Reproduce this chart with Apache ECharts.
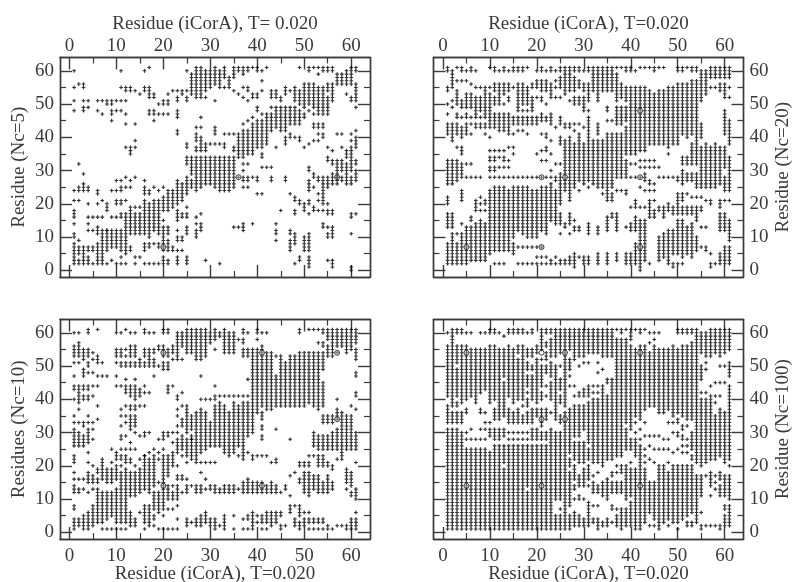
<!DOCTYPE html>
<html><head><meta charset="utf-8">
<style>html,body{margin:0;padding:0;background:#fff}#c{width:794px;height:582px}</style>
<script src="https://cdn.jsdelivr.net/npm/echarts@6/dist/echarts.min.js"></script>
</head><body><div id="c"></div>
<script>
// Each array lists, for residue x = 1..61, the y residues in contact ("a-b" = every residue a to b)
const nc5Columns = [
"60 55 51 48 24 21 16-18 14 10-11 4-8 2-3",
"56 32 25 24 21 9 5-7 2-3",
"55-56 51 48-49 29 25-26 24 4-7 2-3",
"51 49 25 24 20 16 14 12 6-7 2-4",
"16 12 6-7 2",
"51 48 23-24 20 16 11-13 2-8",
"51 47 21 16 12 2-11",
"50-51 18-20 12 6-12 2",
"50-51 47-48 45 24 16 7-12 3",
"51 48 27 24 20-21 16 7-12 2",
"60 55 51 48 27 25 24 20-21 16-17 6-12 4 2",
"54-55 51 47 44 37 28 25 21 5-17 2",
"54-55 35-37 27 25 17-19 11-16 6-7",
"54 44 39 37 28 19 11-17 4 2",
"53 19 11-17 4",
"60 54-55 27 23-25 11-21 6-8 2",
"61 52-55 47-48 23-24 10-20 7-8 2",
"52-53 47-48 45 25 12-21 8 2",
"50 47 24 11-21 7-8 2",
"50-51 47 25 18-22 15 6-13 4 2-3",
"53 50-51 47 18-24 11-13 6-9 2-3",
"54 19-24 6-7",
"54 51-52 46-48 41-42 20-27 15-18 12 9-10 6 2-4",
"53-54 21-26 16-17 9-10 6",
"60 54 51-52 37-38 32-34 23-28 19 16-17 11-13 2-4",
"53-59 29-34 25-27",
"52-61 43 39-41 36-37 24-34 16 14 10-12",
"52-61 46 43 36-40 25-34 17 12-14",
"54-60 52 36-38 26-34 3",
"55-60 38 26-34",
"56-61 51 41-43 38 25-34",
"55-60 38 24-34 2",
"58-61 55 41 37-38 24-34",
"55-58 41 24-34",
"58-61 54 41 36-37 25-34 13",
"60-61 53 34-41 28 13",
"59-61 55 52 44 34-42 32 30 27-28 25 12-14",
"60-61 54-55 51 45 35-42 32 27-28 25",
"61 52-53 46 35-44 28 14",
"60-61 52-53 48-49 37-45 27-28 23",
"60 57 54 47 37-45 34-35 31 23",
"61 38-47 31",
"52-54 49 42-47 31 27-28",
"52-54 43-49 37 14 11-12 9",
"51-52 42-49 18",
"53-55 42-49 38-40 27-28",
"54 44-49 40-41 23 11-12 6-9",
"51-55 44-49 40 21-22 17-18 8-11 2",
"61 50-54 44-48 39-40 20-21 3-4",
"49-56 46-47 37 18-20 6-10",
"60-61 50-56 48 38 30-31 24-27 20-21 17 6-11 1-4",
"61 49-56 47 43-44 39 28-29 25 18-19",
"61 59 48-55 47 43-44 41 39 27-28 23 21 18",
"60-61 47-55 43-44 40-41 20-28 18 13-14",
"60-61 54-56 47-52 37 33-34 25-28 20 17-18 13 10-11 3",
"60-61 51-56 36 32-33 26-29 17-18 10-13 1-3",
"56-59 41 26-33 28",
"56-59 41 37 30-33 27-28",
"56-60 53 34-36 29-32 26-28",
"56-61 51-52 41 39 33-37 30-32 26-28 16-17 11 0-1",
"60-61 51-56 49 42 37-40 32-33 27-30 17"];
const nc20Columns = [
"60-61 54-55 50 47 41-44 26-33 20-22 13-17 5-8 2-4",
"55-60 51 49 39-44 26-33 13-17 2-11",
"61 57 50-54 46-47 41-44 37 27-33 11 2-8",
"60-61 57 49-51 46 40-43 35-37 28-32 21-24 14 2-11",
"60 57 49-53 46-47 41-44 32 28 2-13",
"60-61 56 49-53 46 44 41 32 28 15-16 3-13",
"60 55 48-52 46-47 43-44 28 20-21 18-19 3-14",
"55 48-52 46 43-44 28 22 20 18 3-15",
"55 48-54 46-47 43-44 41 20-21 18 3-14",
"61 55 47-53 45-46 43-44 40 36 33-34 30-31 28 5-24",
"60-61 54-56 50-52 45-47 43-44 36 33-34 30-31 28 6-25 2",
"60 54-56 50-53 42-47 36 34 31 28 6-25 2",
"60-61 53-56 50 42-47 36 33-34 31 28 6-25 2",
"60 54-56 51-52 41-47 37 33 31 28 6-24",
"60-61 55 44-46 41 37 35 28 10-25 5-8",
"60-61 48-56 44-46 42 28 12-25 7 2",
"60-61 50-56 48 44-46 42 28 11-25 7 2",
"61 55 50-54 48 44-46 41 28 10-25 7 2",
"55-56 48-52 44-46 28 10-24 7 2",
"60 55-57 52 44-46 35 28 10-24 7 4 2",
"60-61 54-57 51-52 45-47 41 36 33 28 12-25 7 4 2",
"60 54-57 50 45-46 40-41 36-37 33 28 11-25 4 2",
"60-61 52-56 44-47 39 35 30 28 15-26 3 2",
"60 57 55 52 43 32 27-28 14-24 4 2",
"60-61 55-58 52 44-46 38-40 32 26-29 20-25 14-17 11 3 2",
"53-61 43-44 24-39 13-14 2-3",
"54-61 51 43-44 24-40 21-23 14-17 11 2-4",
"60-61 54-58 50-52 44 42 25-38 15 12-13 3-5 1-2",
"60-61 55-57 50-52 44 41 27-40 24 12-13 4",
"60 54-56 48-52 43 26-38 2-4",
"60-61 51-56 48 27-46 25 11-14 2-4",
"60-61 54-59 26-39",
"60-61 51-59 41-44 25-39 11-13 3-5 2",
"61 54-60 25-39 23",
"61 54-60 48-49 45 24-41 21-23 12-16 2-5",
"61 54-60 45 25-41 21-23 16-17",
"61 51-59 44-49 28-41 24 12-17 3-5",
"61 52-56 44-49 28-41 24",
"60-61 51-55 45-49 35-43 28-33 23-24 13 2-5",
"60-61 50-55 35-49 32 28 19 12-14 2-5",
"60 35-55 32 28 19-21 16 12-15 2-8",
"61 36-55 33 31 28 25 19 0-15",
"61 36-55 33 31 27-29 24 19 3-15",
"61 38-54 33 31 26-27 24 16-21 2",
"60-61 38-53 33 31 26 24 21 16-18",
"61 38-54 31 28 18-19 3-10",
"61 38-54 28 16-19 4-11",
"37-55 35 28 18-20 3-12 2",
"38-55 28 17-19 5-12 1-2",
"60-61 38-56 27-28 17-23 5-15 2",
"60-61 41-56 32-34 26-30 21-23 17-19 4-15 2",
"61 40-56 32-34 27-29 23 17-19 5-13",
"60-61 41-57 32-38 27-29 22 17-19 4-14",
"60-61 39-57 32-38 25-29 22 15-19 6-10",
"60 51-59 40-44 25-37 22 18-19 13 7",
"53-60 25-38 21 13 6-7",
"58-61 55 25-37 20-21 5 1-2",
"58-61 55 25-38 2",
"58-61 54-56 26-37 19-21 12-17 2-5",
"58-61 52-56 41-48 31-37 24-28 21 12-17 2-7",
"58-61 55 52 38-45 30-34 24-29 21 9-15 2-7"];
const nc10Columns = [
"60 53-56 51 47 43-44 40 35 33 31 26-30 21-23 18 16 12-14 7-8 1-4",
"60 53-57 51 43-44 39-42 37 33 26-30 16 12-13 2-4",
"52-55 47-49 43-44 40-41 33 32 26-29 16 13 1-5",
"60-61 53-55 50-51 48 43-44 40-41 35 33 31 27-30 24 21 18 15-17 12 1-6",
"54 52 48 44 41 33 31 28 20 15-17 13 2-8",
"61 51-53 47 44 38 34 18-19 15-16 3-13",
"51 47 16-22 3-12 1",
"47 1 15-19 4-12",
"25 21 15-19 5-12 1",
"60 53-55 51 47 44 22-24 16-20 3-13 1",
"60 53-55 50-51 44 37 35 32 28-29 25 22-23 20 14-18 3-13 1",
"61 55 53 50-51 46 42-44 38 35 33 29 25 21-23 16-19 3-15 1",
"60 53-56 50-51 41-44 37-38 31-35 27 25 21-22 11-18 2-6",
"60 53-56 50-51 46 40-44 37-38 32-35 30 25 20 11-18 2-4",
"50-52 41-43 38 29 22 12-19 6",
"60-61 53-55 50-51 44 42 38 29-30 23 13-23 3-8 1",
"60 53-55 50-52 42 30 24 12-22 2-8",
"60 54-55 50-52 47 25 23 14-22 7-12 4-5 2",
"55-56 50 28 24 22 15 6-12 1",
"60-61 53-56 49-51 28-30 25 15-23 8-14 7 5 1",
"60-61 53-55 49-51 42-44 29-30 17-23 10-14 7 1",
"54-56 52 44 30 27 23-24 20-22 14 12 10-11 7 1",
"60 57-59 52-56 40-41 37 35 32 30 24-28 20 16-17 14 10-13 8 4 1",
"56-60 52 42 38 32-34 25-29 23 16-17 12",
"54-61 30-38 23-28 21 16 14 12-13 2-4",
"54-61 31-35 28 22-29 14 3",
"52-61 32-36 22-31 21 14 13 12 2-4",
"52-61 47 40 33-37 24-32 21 18 12-14 3-5 2",
"53-61 40 31-36 25-30 21 16 13 3-6",
"57-60 40 26-33 21 13-14 2-4",
"58-61 55 44 40-41 26-38 21 12-14 1-4",
"59-60 41 26-39 13 12 2",
"54-61 41 24-38 12-14 1-5",
"54-60 41 23-36 12-14",
"54-60 41 24-39 12-14 5 1",
"58 41 26-38 23 13",
"60-61 57-58 53-55 41 26-39 22-25 12-15 4 1",
"60 53-55 46 41 29-39 24 12-16 4-5 1",
"51-55 47-50 30-46 22-23 12-15 3-6 1-2",
"60-61 58 50-55 36-49 23 12-15 3 5",
"60 53-56 38-52 34-36 31-32 28-29 23 12-15 3-5 1",
"60 52-54 37-51 23 12-14 3-6 1",
"54 37-53 21 12-15 3-6 2",
"53 38-47 31 21-22 12-14 3-6",
"38-53 12 5-6 1-2",
"38-51 13-14 2",
"38-53 28 17 11 6-8",
"38-53 18 8 2-4",
"60-61 38-54 20-21 15-16 5-8 1-3",
"38-54 20-21 12-18 6 2-4",
"61 39-54 23 20-21 11-18 6 3-4 1",
"61 38-54 26-30 23 13-17 3-4 1",
"61 57 37-54 25-29 20-23 12-17 3-4 1",
"60-61 56-57 49-54 38-45 33-35 25-29 20-23 12-15 3-4 1",
"58-61 53-56 33-35 25-29 20-21 12-17 1-2",
"56-61 53-55 33-35 25-30 19-20 13-15 1",
"56-61 54 40 34-37 25-31 22 2",
"56-61 25-36 22-24 2",
"54-61 25-35 15-19 13 1-2",
"55-61 38 25-35 14-18 11-12 3-4 1-2",
"57-61 52-55 47-48 41-42 37 25-30 21 10-13 6 1-4"];
const nc100Columns = [
"60 50-56 47-49 41-46 33-38 1-31",
"38-61 33-36 1-31",
"60-61 51-56 41-49 38-39 33-36 1-31",
"60-61 49-56 39-48 33-36 1-30",
"60 40-56 36-37 30 28 25 1-24",
"60 41-55 31 28 25 1-24",
"42-55 39-41 28 25 1-24",
"60 42-55 36-37 31 28 25 1-24",
"60 43-55 36 33 31 28 25 1-24",
"60-61 39-56 33 29-31 1-24",
"60-61 52-56 40-51 36-37 34-35 28-31 1-26",
"60 54-55 39-53 34-38 28-31 1-26",
"59 47-55 35-45 29-31 21-26 1-19",
"60-61 50-56 41-49 33-37 30 28 1-26",
"60-61 39-55 33-36 30 28 1-26",
"60-61 54-56 40-52 33-37 30 28 1-26",
"60-61 54-56 40-53 38 33-35 30 28 1-26",
"60 53-55 49-51 44-47 42 38-40 33-36 30 28 14-26 1-12",
"60-61 53-55 49-50 43-47 40-42 33-37 28-31 1-26",
"54-56 48-52 43-47 39-42 35-37 28-31 1-26",
"55-61 52 48-50 44-47 40-42 32-37 28-30 1-26",
"60-61 56-57 52-54 48-50 44 41 34-37 28-30 1-26",
"60-61 53-58 47-51 44-45 40-43 36 1-31",
"58-61 53-57 41-50 34-40 28-30 10-27 1-5",
"54-61 50 43-46 39-41 33-35 10-30 7 1-5",
"38-61 1-36",
"55-61 49-52 47 44 24-37 20-22 8-18 1-5",
"52-61 44 41 29-38 22-27 16-20 13-14 10 2-6",
"53-61 50 41-42 29-38 21-27 14-17 10-11 2-5",
"53-61 51 41-43 31-38 21-27 14-19 10 2-4",
"54-61 51 41-44 27-39 22-25 16-20 14 2-9",
"54-61 44 42 21-40 17 12-15 8 3-4",
"54-61 51 48 44 42 21-40 18 12-14 8 4 1-3",
"53-61 49 41-44 20-40 11-15 2-3",
"53-61 45-46 41 22-40 10-16 4 2-3",
"60-61 53-59 41-46 22-40 17-18 12-15 7-8 3",
"61 23-58 20 18 12-15 7 2-5",
"60-61 57-58 23-56 18-20 12-15 3-7 1-2",
"61 56-58 33-55 31 25-30 20 10-19 2-7",
"58-61 34-56 31-33 28 25-27 21 16-19 11-15 2-9",
"61 35-55 33 30 23-28 1-19",
"60-61 34-56 31 28 23-26 1-22",
"61 37-56 33 29 25 23 21 3-19",
"60 57 38-54 29 26 22 13-15 6-12 2",
"60 58 38-56 29 25 21 4-15 2",
"60 36-55 29 25 1-20",
"36-55 28 25 3-20",
"37-55 33 28 25 21 4-18 2",
"35-56 33 30 24 3-20",
"60-61 36-55 33-34 29-30 25 3-20 1",
"60-61 35-56 31-32 28-29 26 24 4-20",
"60-61 34-56 32 28 26 24 5-20 2-3",
"60-61 34-57 25-30 22-23 6-20 2-3",
"55-61 21-54 3-17",
"54-60 46-50 42 20-40 14-17 11-13 6 1-2",
"53-60 51 49 42 21-40 17 2",
"53-61 44 41 22-40 14-18 11 2",
"54-61 45 41 39 22-35 17 15 13 2",
"53-61 50 45 41 23-37 16-18 11-14 1-2",
"54-61 50 45 21-36 11-17 7-8 2-5",
"55-61 47-51 41-44 22-40 20 10-17 2-8"];
const nc5Rings = [[20,7],[36,28],[57,28]];
const nc20Rings = [[5,7],[21,7],[42,7],[21,28],[26,28],[42,28],[42,48]];
const nc10Rings = [[20,54],[41,54],[57,54],[57,34],[20,14],[41,14]];
const nc100Rings = [[5,54],[21,54],[26,54],[42,54],[21,34],[26,34],[5,14],[21,14],[42,14]];
const majorTicks = [0,10,20,30,40,50,60];
const minorTicks = [5,15,25,35,45,55];
const plusPath = 'path://M3.4 0H6.6V3.6H10V6.4H6.6V10H3.4V6.4H0V3.6H3.4Z';
const FONT = '"Liberation Serif","Times New Roman",serif';
const INK = '#3a3a3a';

function expand(cols){
  const pts=[];
  cols.forEach((s,i)=>s.split(' ').forEach(tok=>{
    const p=tok.split('-').map(Number);
    const a=p[0], b=p[p.length-1];
    for(let y=a;y<=b;y++) pts.push([i+1,y]);
  }));
  return pts;
}

const panels=[
 {cols:nc5Columns,rings:nc5Rings,left:60,top:57.5,xs:'top',ys:'left',xn:'Residue (iCorA), T= 0.020',yn:'Residue (Nc=5)'},
 {cols:nc20Columns,rings:nc20Rings,left:433.5,top:57.5,xs:'top',ys:'right',xn:'Residue (iCorA), T=0.020',yn:'Residue (Nc=20)'},
 {cols:nc10Columns,rings:nc10Rings,left:60,top:319.5,xs:'bottom',ys:'left',xn:'Residue (iCorA), T=0.020',yn:'Residues (Nc=10)'},
 {cols:nc100Columns,rings:nc100Rings,left:433.5,top:319.5,xs:'bottom',ys:'right',xn:'Residue (iCorA), T=0.020',yn:'Residue (Nc=100)'}
];
const opp={top:'bottom',bottom:'top',left:'right',right:'left'};
const grid=[],xAxis=[],yAxis=[],series=[];
function axisSet(list,gi,main,extra){
  const base={gridIndex:gi,min:-2,max:64,type:'value',splitLine:{show:false},
    axisLine:{show:true,onZero:false,lineStyle:{color:INK,width:1.4}}};
  list.push(Object.assign({},base,{position:main,
    axisTick:{show:true,inside:true,length:12,customValues:majorTicks,lineStyle:{color:INK,width:1.4}},
    axisLabel:{show:true,customValues:majorTicks,margin:extra.margin,fontFamily:FONT,fontSize:19,color:INK,hideOverlap:false},
    name:extra.name,nameLocation:'middle',nameGap:extra.gap,nameRotate:extra.rotate,nameMoveOverlap:false,
    nameTextStyle:{fontFamily:FONT,fontSize:19,color:INK}}));
  const mainIdx=list.length-1;
  list.push(Object.assign({},base,{position:opp[main],
    axisTick:{show:true,inside:true,length:12,customValues:majorTicks,lineStyle:{color:INK,width:1.4}},axisLabel:{show:false}}));
  [main,opp[main]].forEach(pos=>list.push(Object.assign({},base,{position:pos,
    axisTick:{show:true,inside:true,length:6,customValues:minorTicks,lineStyle:{color:INK,width:1.2}},axisLabel:{show:false}})));
  return mainIdx;
}
panels.forEach((p,gi)=>{
  grid.push({left:p.left,top:p.top,width:310,height:219.5,containLabel:false,outerBoundsMode:'none'});
  const xi=axisSet(xAxis,gi,p.xs,{margin:p.xs==='top'?2:8,name:p.xn,gap:p.xs==='top'?24:26,rotate:0});
  const yi=axisSet(yAxis,gi,p.ys,{margin:6,name:p.yn,gap:p.ys==='left'?31:30,rotate:90});
  series.push({type:'scatter',xAxisIndex:xi,yAxisIndex:yi,data:expand(p.cols),symbol:plusPath,symbolSize:3.7,
    itemStyle:{color:'#000'},silent:true,animation:false,clip:false});
  series.push({type:'scatter',xAxisIndex:xi,yAxisIndex:yi,data:p.rings,symbol:'circle',symbolSize:5,
    itemStyle:{color:'rgba(255,255,255,0.35)',borderColor:'#111',borderWidth:1},silent:true,animation:false,z:3});
});
const chart=echarts.init(document.getElementById('c'),null,{renderer:'canvas'});
chart.setOption({backgroundColor:'#fff',animation:false,grid,xAxis,yAxis,series});
</script></body></html>
